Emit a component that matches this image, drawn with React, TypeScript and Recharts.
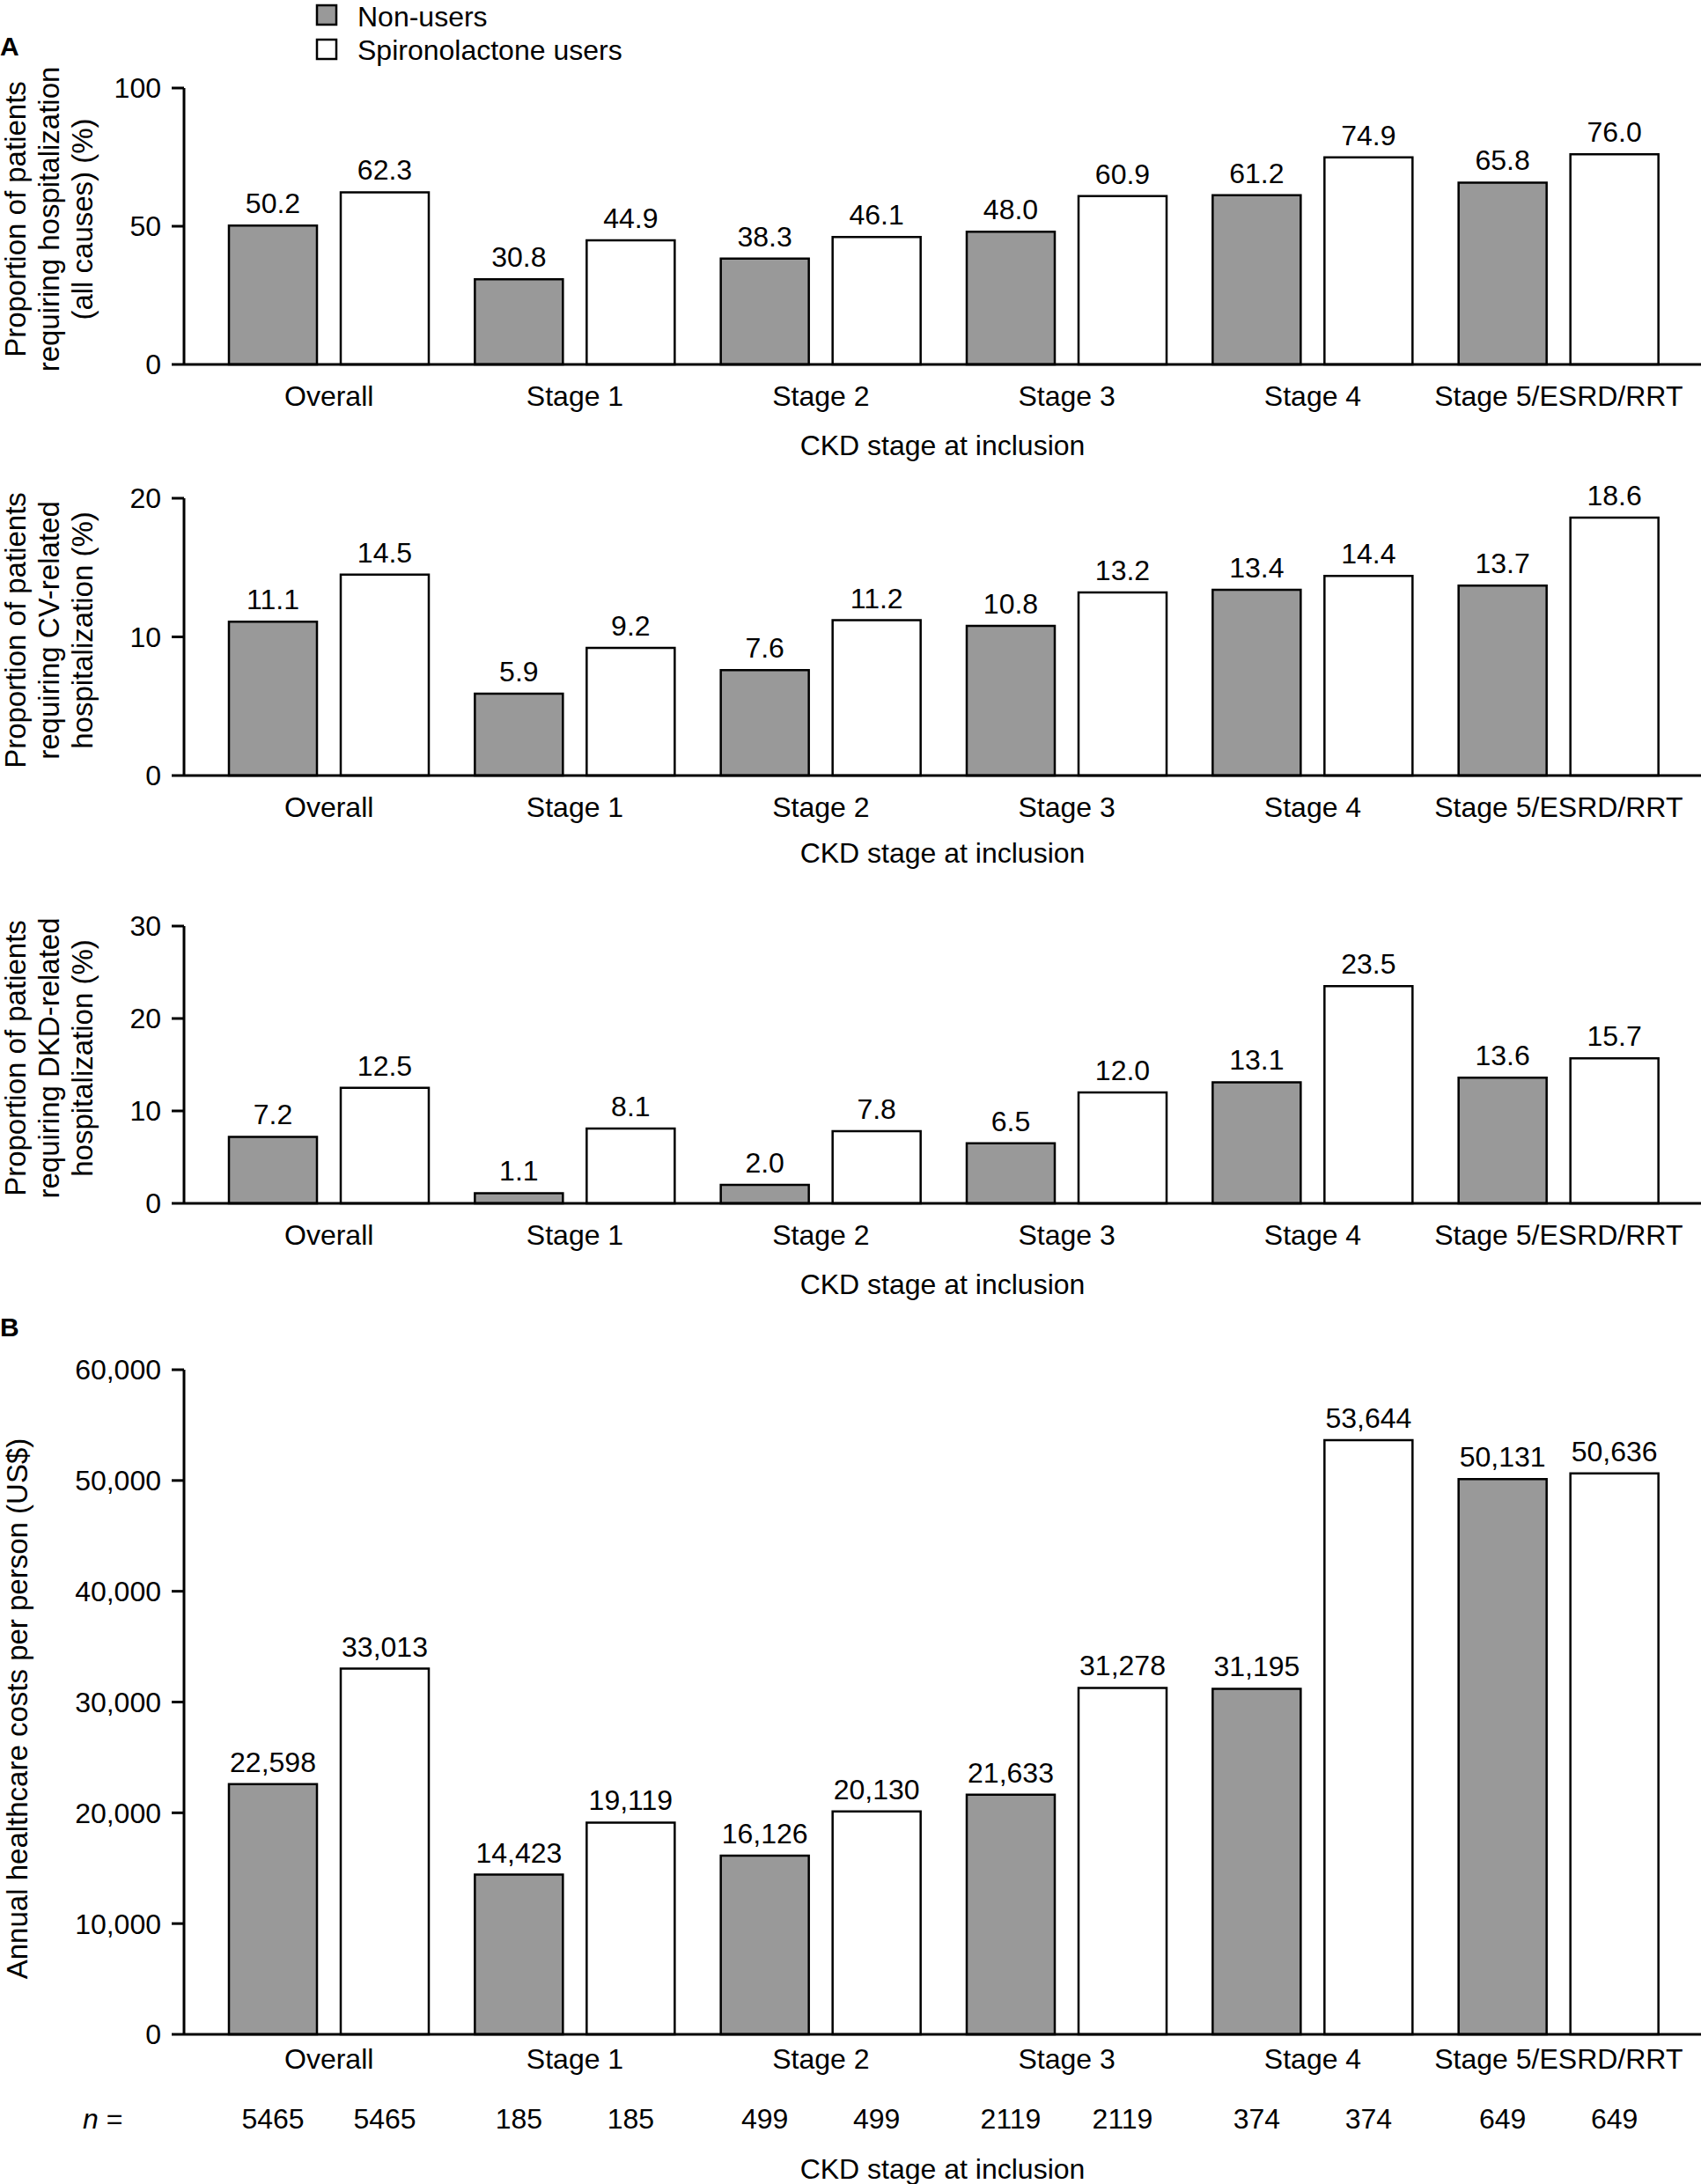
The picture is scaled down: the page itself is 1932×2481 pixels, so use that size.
import React from 'react';
import { BarChart, Bar, XAxis, YAxis, LabelList } from 'recharts';

const categories = ['Overall', 'Stage 1', 'Stage 2', 'Stage 3', 'Stage 4', 'Stage 5/ESRD/RRT'];
const seriesNames = ['Non-users', 'Spironolactone users'];

const allCauseNonUsers = [50.2, 30.8, 38.3, 48.0, 61.2, 65.8];
const allCauseSpiro = [62.3, 44.9, 46.1, 60.9, 74.9, 76.0];

const cvNonUsers = [11.1, 5.9, 7.6, 10.8, 13.4, 13.7];
const cvSpiro = [14.5, 9.2, 11.2, 13.2, 14.4, 18.6];

const dkdNonUsers = [7.2, 1.1, 2.0, 6.5, 13.1, 13.6];
const dkdSpiro = [12.5, 8.1, 7.8, 12.0, 23.5, 15.7];

const costNonUsers = [22598, 14423, 16126, 21633, 31195, 50131];
const costSpiro = [33013, 19119, 20130, 31278, 53644, 50636];

const nPatients = [5465, 185, 499, 2119, 374, 649];

const ticksAll = [0, 50, 100];
const ticksCv = [0, 10, 20];
const ticksDkd = [0, 10, 20, 30];
const ticksCost = [0, 10000, 20000, 30000, 40000, 50000, 60000];

const FONT = '"Liberation Sans", Arial, Helvetica, sans-serif';
const FS = 32;
const GRAY = '#999999';
const W = 1932;

const build = (a: number[], b: number[]) =>
  categories.map((c, i) => ({ cat: c, non: a[i], spiro: b[i], n: nPatients[i] }));

type PanelProps = {
  top: number;
  plotTop: number;
  plotBottom: number;
  titleBaseline: number;
  tickGap: number;
  data: any[];
  ticks: number[];
  fmtTick: (v: number) => string;
  fmtVal: (v: number) => string;
  nRowBaseline?: number;
};

function Panel(p: PanelProps) {
  const marginTop = p.plotTop - p.top;
  const plotH = p.plotBottom - p.plotTop;
  const xAxisH = p.titleBaseline - p.plotBottom + 8;
  const height = marginTop + plotH + xAxisH;
  const nContent = (props: any) => {
    if (p.nRowBaseline === undefined) return null;
    const cx = Number(props.x) + Number(props.width) / 2;
    const yy = p.nRowBaseline - p.top;
    return (
      <text x={cx} y={yy} textAnchor="middle" fontSize={FS} fontFamily={FONT} fill="#000">
        {props.value}
      </text>
    );
  };
  const valueLabel = {
    position: 'top' as const,
    offset: 14,
    fill: '#000',
    fontSize: FS,
    fontFamily: FONT,
  };
  return (
    <div style={{ position: 'absolute', left: 0, top: p.top }}>
      <BarChart
        width={W}
        height={height}
        data={p.data}
        margin={{ top: marginTop, right: 0, left: 0, bottom: 0 }}
        barGap={27}
      >
        <XAxis
          dataKey="cat"
          interval={0}
          height={xAxisH}
          tickLine={false}
          tickSize={0}
          tickMargin={p.tickGap}
          axisLine={{ stroke: '#000', strokeWidth: 3 }}
          tick={{ fill: '#000', fontSize: FS, fontFamily: FONT }}
          padding={{ left: 25, right: 22 }}
          label={{
            value: 'CKD stage at inclusion',
            position: 'insideBottom',
            offset: 8,
            fill: '#000',
            fontSize: FS,
            fontFamily: FONT,
          }}
        />
        <YAxis
          width={209}
          domain={[p.ticks[0], p.ticks[p.ticks.length - 1]]}
          ticks={p.ticks}
          interval={0}
          tickSize={14}
          tickMargin={12}
          tickFormatter={p.fmtTick}
          axisLine={{ stroke: '#000', strokeWidth: 3 }}
          tickLine={{ stroke: '#000', strokeWidth: 3 }}
          tick={{ fill: '#000', fontSize: FS, fontFamily: FONT }}
        />
        <Bar dataKey="non" name={seriesNames[0]} fill={GRAY} stroke="#000" strokeWidth={2.5} barSize={100} isAnimationActive={false}>
          <LabelList dataKey="non" {...valueLabel} formatter={(v: any) => p.fmtVal(Number(v))} />
          {p.nRowBaseline !== undefined && <LabelList dataKey="n" content={nContent} />}
        </Bar>
        <Bar dataKey="spiro" name={seriesNames[1]} fill="#ffffff" stroke="#000" strokeWidth={2.5} barSize={100} isAnimationActive={false}>
          <LabelList dataKey="spiro" {...valueLabel} formatter={(v: any) => p.fmtVal(Number(v))} />
          {p.nRowBaseline !== undefined && <LabelList dataKey="n" content={nContent} />}
        </Bar>
      </BarChart>
    </div>
  );
}

function YLabel({ lines, cy, xs }: { lines: string[]; cy: number; xs: number[] }) {
  return (
    <g>
      {lines.map((l, i) => (
        <text
          key={i}
          transform={`translate(${xs[i]},${cy}) rotate(-90)`}
          textAnchor="middle"
          fontSize={33}
          fontFamily={FONT}
          fill="#000"
        >
          {l}
        </text>
      ))}
    </g>
  );
}

const fmtPct = (v: number) => v.toFixed(1);
const fmtInt = (v: number) => v.toLocaleString('en-US');
const fmtTickPlain = (v: number) => String(v);

export default function App() {
  const lineXs = [29, 67, 105];
  return (
    <div style={{ position: 'absolute', left: 0, top: 0, width: W, height: 2481, background: '#fff', fontFamily: FONT }}>
      <Panel top={60} plotTop={100} plotBottom={414} titleBaseline={517} tickGap={24}
        data={build(allCauseNonUsers, allCauseSpiro)} ticks={ticksAll} fmtTick={fmtTickPlain} fmtVal={fmtPct} />
      <Panel top={526} plotTop={566} plotBottom={881} titleBaseline={980} tickGap={24}
        data={build(cvNonUsers, cvSpiro)} ticks={ticksCv} fmtTick={fmtTickPlain} fmtVal={fmtPct} />
      <Panel top={1012} plotTop={1052} plotBottom={1367} titleBaseline={1470} tickGap={24}
        data={build(dkdNonUsers, dkdSpiro)} ticks={ticksDkd} fmtTick={fmtTickPlain} fmtVal={fmtPct} />
      <Panel top={1516} plotTop={1556} plotBottom={2311} titleBaseline={2475} tickGap={16}
        data={build(costNonUsers, costSpiro)} ticks={ticksCost} fmtTick={fmtInt} fmtVal={fmtInt} nRowBaseline={2418} />
      <svg width={W} height={2481} style={{ position: 'absolute', left: 0, top: 0, pointerEvents: 'none' }}>
        <text x={0} y={63} fontSize={30} fontWeight="bold" fontFamily={FONT} fill="#000">A</text>
        <text x={0} y={1518} fontSize={30} fontWeight="bold" fontFamily={FONT} fill="#000">B</text>
        <rect x={360} y={6} width={22} height={22} fill={GRAY} stroke="#000" strokeWidth={2.5} />
        <text x={406} y={30} fontSize={FS} fontFamily={FONT} fill="#000">{seriesNames[0]}</text>
        <rect x={360} y={45} width={22} height={22} fill="#fff" stroke="#000" strokeWidth={2.5} />
        <text x={406} y={68} fontSize={FS} fontFamily={FONT} fill="#000">{seriesNames[1]}</text>
        <YLabel lines={['Proportion of patients', 'requiring hospitalization', '(all causes) (%)']} cy={249} xs={lineXs} />
        <YLabel lines={['Proportion of patients', 'requiring CV-related', 'hospitalization (%)']} cy={716} xs={lineXs} />
        <YLabel lines={['Proportion of patients', 'requiring DKD-related', 'hospitalization (%)']} cy={1202} xs={lineXs} />
        <YLabel lines={['Annual healthcare costs per person (US$)']} cy={1941} xs={[31]} />
        <text x={94} y={2418} fontSize={FS} fontFamily={FONT} fill="#000">
          <tspan fontStyle="italic">n</tspan> =
        </text>
      </svg>
    </div>
  );
}
